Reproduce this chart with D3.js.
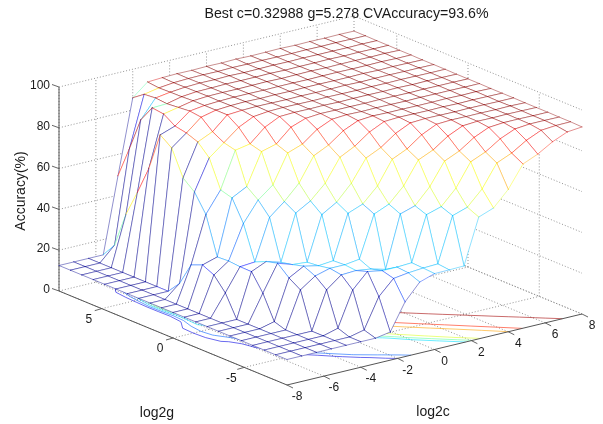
<!DOCTYPE html>
<html>
<head>
<meta charset="utf-8">
<title>Best c and g</title>
<script src="https://cdn.jsdelivr.net/npm/d3@7"></script>
<style>
    html, body { margin: 0; padding: 0; background: #fff; }
    svg { display: block; filter: blur(0.35px); }
    text { font-family: "Liberation Sans", Arial, sans-serif; fill: #1a1a1a; }
</style>
</head>
<body>
<div id="chart"></div>
<script>
const log2c = [-8, -7.2, -6.4, -5.6, -4.8, -4, -3.2, -2.4, -1.6, -0.8, 0, 0.8, 1.6, 2.4, 3.2, 4, 4.8, 5.6, 6.4, 7.2, 8];
const log2g = [8, 7.2, 6.4, 5.6, 4.8, 4, 3.2, 2.4, 1.6, 0.8, 0, -0.8, -1.6, -2.4, -3.2, -4, -4.8, -5.6, -6.4, -7.2, -8];

// one row per log2g value, one column per log2c value
const accuracy = [
    [12.5, 12.5, 12.5, 12.5, 49.5, 86.0, 92.0, 92.4, 92.6, 92.5, 92.7, 92.6, 92.8, 92.6, 92.7, 92.8, 92.6, 92.7, 92.6, 92.7, 92.6],
    [12.5, 12.5, 12.5, 19.6, 65.0, 90.0, 91.4, 92.2, 92.5, 92.6, 92.5, 92.7, 92.6, 92.7, 92.6, 92.6, 92.7, 92.6, 92.7, 92.6, 92.6],
    [12.5, 12.5, 12.5, 37.0, 81.5, 90.5, 91.6, 92.3, 92.6, 92.5, 92.7, 92.5, 92.6, 92.7, 92.6, 92.7, 92.6, 92.6, 92.5, 92.6, 92.5],
    [12.5, 12.5, 12.5, 50.0, 89.7, 90.0, 91.7, 92.4, 92.5, 92.7, 92.6, 92.6, 92.7, 92.5, 92.6, 92.6, 92.7, 92.5, 92.6, 92.5, 92.5],
    [12.5, 12.5, 12.5, 64.0, 89.0, 90.5, 92.0, 92.5, 92.6, 92.5, 92.6, 92.7, 92.5, 92.6, 92.7, 92.5, 92.6, 92.6, 92.5, 92.6, 92.4],
    [12.5, 12.5, 12.5, 82.8, 85.4, 91.0, 92.0, 92.4, 92.6, 92.6, 92.5, 92.6, 92.6, 92.5, 92.6, 92.6, 92.5, 92.5, 92.6, 92.4, 92.4],
    [12.5, 12.5, 12.5, 78.7, 84.3, 90.3, 92.0, 92.5, 92.7, 92.5, 92.6, 92.5, 92.6, 92.6, 92.5, 92.5, 92.6, 92.4, 92.5, 92.4, 92.3],
    [12.5, 12.5, 12.5, 66.3, 82.2, 85.5, 92.0, 92.5, 92.7, 92.6, 92.5, 92.6, 92.5, 92.5, 92.6, 92.4, 92.5, 92.5, 92.4, 92.4, 92.3],
    [12.5, 12.5, 18.7, 61.7, 76.7, 82.4, 88.2, 91.7, 92.5, 92.7, 92.6, 92.5, 92.6, 92.5, 92.4, 92.5, 92.4, 92.5, 92.4, 92.3, 92.3],
    [12.5, 12.5, 30.0, 53.0, 63.3, 81.0, 82.4, 88.8, 92.3, 92.6, 92.5, 92.6, 92.4, 92.5, 92.5, 92.4, 92.5, 92.3, 92.4, 92.3, 92.2],
    [12.5, 12.5, 32.3, 34.5, 61.7, 65.5, 80.9, 82.9, 89.4, 92.0, 92.6, 92.5, 92.5, 92.4, 92.5, 92.4, 92.3, 92.4, 92.3, 92.3, 92.2],
    [12.5, 12.5, 29.7, 34.8, 51.4, 61.2, 66.9, 80.8, 83.4, 88.9, 92.1, 92.6, 92.4, 92.5, 92.4, 92.3, 92.4, 92.3, 92.3, 92.2, 92.2],
    [12.5, 12.5, 23.2, 34.3, 34.9, 55.0, 61.0, 68.3, 80.0, 83.5, 88.8, 92.0, 92.6, 92.4, 92.4, 92.3, 92.3, 92.4, 92.2, 92.3, 92.1],
    [12.5, 12.5, 12.5, 34.2, 37.4, 35.3, 57.7, 61.9, 68.8, 79.8, 83.5, 88.7, 92.1, 92.5, 92.4, 92.3, 92.4, 92.2, 92.3, 92.2, 92.1],
    [12.5, 12.5, 12.5, 25.9, 38.9, 36.5, 35.9, 57.5, 61.8, 69.4, 80.0, 83.4, 88.6, 92.0, 92.4, 92.3, 92.2, 92.3, 92.2, 92.1, 92.1],
    [12.5, 12.5, 12.5, 14.3, 34.0, 38.0, 36.5, 37.2, 58.7, 61.5, 68.6, 80.0, 83.3, 88.5, 91.9, 92.3, 92.2, 92.2, 92.1, 92.2, 92.0],
    [12.5, 12.5, 12.5, 12.5, 30.4, 35.5, 37.5, 37.5, 38.5, 58.9, 62.0, 69.2, 80.2, 83.4, 88.4, 91.7, 92.2, 92.1, 92.2, 92.1, 92.0],
    [12.5, 12.5, 12.5, 12.5, 12.5, 31.0, 36.6, 37.0, 36.0, 34.1, 59.5, 61.8, 69.4, 80.2, 83.4, 88.3, 91.5, 92.1, 92.1, 92.0, 92.0],
    [12.5, 12.5, 12.5, 12.5, 12.5, 14.5, 31.5, 38.8, 37.5, 37.5, 37.9, 59.7, 61.9, 69.2, 80.4, 83.5, 88.2, 91.3, 92.0, 92.0, 91.9],
    [12.5, 12.5, 12.5, 12.5, 12.5, 12.5, 14.2, 28.8, 36.0, 37.0, 37.6, 37.9, 59.8, 62.2, 69.4, 80.4, 83.5, 88.0, 91.2, 91.8, 91.9],
    [12.5, 12.5, 12.5, 12.5, 12.5, 12.5, 12.5, 13.8, 26.8, 34.8, 37.2, 37.3, 37.5, 59.7, 62.4, 69.8, 80.5, 83.6, 87.9, 91.0, 91.7]
];

const contourLevels = [20, 30, 40, 50, 60, 70, 80, 90];

const cTicks = [-8, -6, -4, -2, 0, 2, 4, 6, 8];
const gTicks = [5, 0, -5];
const zTicks = [0, 20, 40, 60, 80, 100];

const titleText = 'Best c=0.32988 g=5.278 CVAccuracy=93.6%';
const cLabel = 'log2c';
const gLabel = 'log2g';
const zLabel = 'Accuracy(%)';

const WIDTH = 603;
const HEIGHT = 424;
const ORIGIN = [59, 291]; // floor corner at c=-8, g=8

// Fixed orthographic view: each axis moves the point along its own screen direction
const xFromC = d3.scaleLinear().domain([-8, 8]).range([0, 295]);
const yFromC = d3.scaleLinear().domain([-8, 8]).range([0, -71]);
const xFromG = d3.scaleLinear().domain([8, -8]).range([0, 228]);
const yFromG = d3.scaleLinear().domain([8, -8]).range([0, 94]);
const yFromZ = d3.scaleLinear().domain([0, 100]).range([0, -204]);

function project(c, g, z) {
    return [
        ORIGIN[0] + xFromC(c) + xFromG(g),
        ORIGIN[1] + yFromC(c) + yFromG(g) + yFromZ(z)
    ];
}

// MATLAB jet, stretched over the surface's range
const jet = d3
    .scaleLinear()
    .domain([0, 0.125, 0.375, 0.625, 0.875, 1].map((t) => 12.5 + t * (92.8 - 12.5)))
    .range(['#00008f', '#0000ff', '#00ffff', '#ffff00', '#ff0000', '#800000'])
    .clamp(true);

const svg = d3.select('#chart').append('svg').attr('width', WIDTH).attr('height', HEIGHT);

function drawSegments(parent, segments, style) {
    parent
        .append('g')
        .attr('fill', 'none')
        .attr('stroke', style.stroke)
        .attr('stroke-width', style.width)
        .attr('stroke-dasharray', style.dash || null)
        .selectAll('line')
        .data(segments)
        .enter()
        .append('line')
        .attr('x1', (s) => s[0][0])
        .attr('y1', (s) => s[0][1])
        .attr('x2', (s) => s[1][0])
        .attr('y2', (s) => s[1][1]);
}

// Back walls and floor grid
const gridSegments = [];
cTicks.forEach((c) => {
    gridSegments.push([project(c, -8, 0), project(c, 8, 0)]);
    gridSegments.push([project(c, 8, 0), project(c, 8, 100)]);
});
gTicks.forEach((g) => {
    gridSegments.push([project(-8, g, 0), project(8, g, 0)]);
    gridSegments.push([project(8, g, 0), project(8, g, 100)]);
});
zTicks.forEach((z) => {
    gridSegments.push([project(-8, 8, z), project(8, 8, z)]);
    gridSegments.push([project(8, 8, z), project(8, -8, z)]);
});
drawSegments(svg, gridSegments, { stroke: '#888', width: 0.9, dash: '1 2' });

// Contours on the floor (meshc)
const nc = log2c.length;
const ng = log2g.length;
const flat = accuracy.flat();
const contours = d3.contours().size([nc, ng]).thresholds(contourLevels)(flat);

// contour coordinates -> data, values sit on cell centres
const cFromGrid = d3.scaleLinear().domain([0, nc - 1]).range([-8, 8]).clamp(true);
const gFromGrid = d3.scaleLinear().domain([0, ng - 1]).range([8, -8]).clamp(true);

const onBorder = (a, b) => {
    const low = 0.5;
    const highX = nc - 0.5;
    const highY = ng - 0.5;
    return (
        (a[0] <= low && b[0] <= low) ||
        (a[0] >= highX && b[0] >= highX) ||
        (a[1] <= low && b[1] <= low) ||
        (a[1] >= highY && b[1] >= highY)
    );
};

const contourLayer = svg.append('g').attr('stroke-opacity', 0.65);
contours.forEach((level) => {
    const segments = [];
    level.coordinates.forEach((polygon) => {
        polygon.forEach((ring) => {
            for (let k = 1; k < ring.length; k++) {
                if (onBorder(ring[k - 1], ring[k])) continue;
                segments.push(
                    [ring[k - 1], ring[k]].map((p) =>
                        project(cFromGrid(p[0] - 0.5), gFromGrid(p[1] - 0.5), 0)
                    )
                );
            }
        });
    });
    drawSegments(contourLayer, segments, { stroke: jet(level.value), width: 0.9 });
});

// Axis lines and tick marks
const axisSegments = [
    [project(-8, 8, 0), project(-8, 8, 100)],
    [project(-8, 8, 0), project(-8, -8, 0)],
    [project(-8, -8, 0), project(8, -8, 0)]
];
const tickSegments = [];
zTicks.forEach((z) => {
    const p = project(-8, 8, z);
    tickSegments.push([p, [p[0] - 7, p[1] - 2.5]]);
});
gTicks.forEach((g) => {
    const p = project(-8, g, 0);
    tickSegments.push([p, [p[0] - 7, p[1] + 2]]);
});
cTicks.forEach((c) => {
    const p = project(c, -8, 0);
    tickSegments.push([p, [p[0] + 6, p[1] + 3]]);
});
drawSegments(svg, axisSegments, { stroke: '#555', width: 1 });
drawSegments(svg, tickSegments, { stroke: '#555', width: 0.9 });

// Mesh, painted back to front so the white faces hide what is behind them
const cells = [];
for (let i = nc - 2; i >= 0; i--) {
    for (let j = 0; j < ng - 1; j++) {
        cells.push({ i, j });
    }
}
const vertex = (i, j) => project(log2c[i], log2g[j], accuracy[j][i]);
// edge colour comes from the vertex before the edge along the grid line
const alongC = (i, j) => jet(accuracy[j][Math.max(i - 1, 0)]);
const alongG = (i, j) => jet(accuracy[Math.min(j + 2, ng - 1)][i]);

const cellGroups = svg
    .append('g')
    .selectAll('g')
    .data(cells)
    .enter()
    .append('g')
    .attr('stroke-width', 0.8)
    .attr('stroke-opacity', 0.55)
    .attr('stroke-linecap', 'round');

cellGroups
    .append('path')
    .attr('fill', '#fff')
    .attr('d', ({ i, j }) =>
        d3.line()([vertex(i, j), vertex(i + 1, j), vertex(i + 1, j + 1), vertex(i, j + 1)]) + 'Z'
    );

cellGroups.each(function ({ i, j }) {
    const edges = [
        [vertex(i, j), vertex(i + 1, j), alongC(i, j)],
        [vertex(i, j + 1), vertex(i + 1, j + 1), alongC(i, j + 1)],
        [vertex(i, j), vertex(i, j + 1), alongG(i, j)],
        [vertex(i + 1, j), vertex(i + 1, j + 1), alongG(i + 1, j)]
    ];
    d3.select(this)
        .selectAll('line')
        .data(edges)
        .enter()
        .append('line')
        .attr('x1', (e) => e[0][0])
        .attr('y1', (e) => e[0][1])
        .attr('x2', (e) => e[1][0])
        .attr('y2', (e) => e[1][1])
        .attr('stroke', (e) => e[2]);
});

// Tick labels
const labels = svg.append('g').attr('font-size', 12).attr('text-anchor', 'middle');
labels
    .selectAll('.z-tick')
    .data(zTicks)
    .enter()
    .append('text')
    .attr('class', 'z-tick')
    .attr('text-anchor', 'end')
    .attr('x', (z) => project(-8, 8, z)[0] - 9)
    .attr('y', (z) => project(-8, 8, z)[1] - 2)
    .attr('dy', '0.35em')
    .text((z) => z);
labels
    .selectAll('.g-tick')
    .data(gTicks)
    .enter()
    .append('text')
    .attr('class', 'g-tick')
    .attr('x', (g) => project(-8, g, 0)[0] - 13)
    .attr('y', (g) => project(-8, g, 0)[1] + 10)
    .attr('dy', '0.35em')
    .text((g) => g);
labels
    .selectAll('.c-tick')
    .data(cTicks)
    .enter()
    .append('text')
    .attr('class', 'c-tick')
    .attr('x', (c) => project(c, -8, 0)[0] + 10)
    .attr('y', (c) => project(c, -8, 0)[1] + 11)
    .attr('dy', '0.35em')
    .text((c) => c);

// Title and axis labels
svg.append('text').attr('x', 346.5).attr('y', 18).attr('text-anchor', 'middle').attr('font-size', 14.2).text(titleText);
svg.append('text').attr('x', 157).attr('y', 417).attr('text-anchor', 'middle').attr('font-size', 14).text(gLabel);
svg.append('text').attr('x', 433).attr('y', 416).attr('text-anchor', 'middle').attr('font-size', 14).text(cLabel);
svg
    .append('text')
    .attr('transform', 'translate(25, 191) rotate(-90)')
    .attr('text-anchor', 'middle')
    .attr('font-size', 14)
    .text(zLabel);
</script>
</body>
</html>
